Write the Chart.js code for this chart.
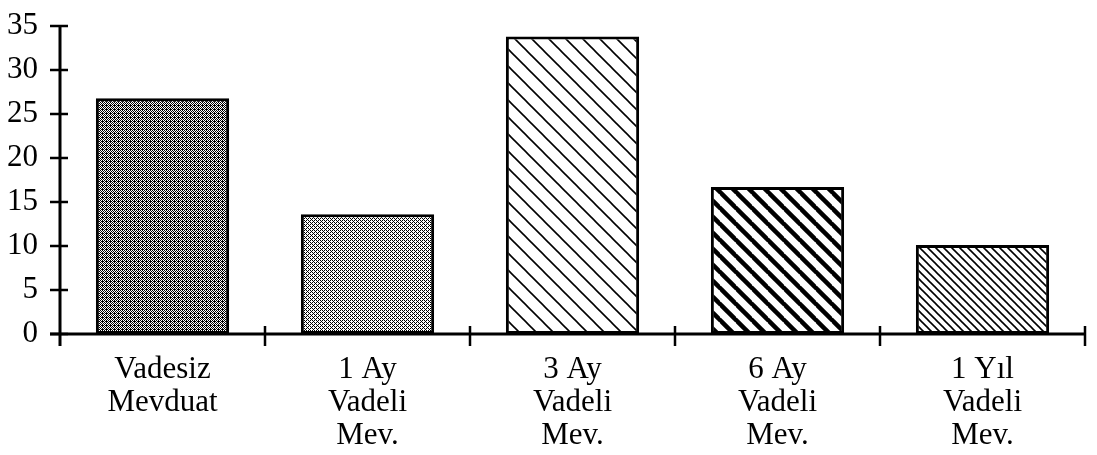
<!DOCTYPE html>
<html>
<head>
<meta charset="utf-8">
<script src="https://cdn.jsdelivr.net/npm/chart.js@4/dist/chart.umd.min.js"></script>
<style>
  body { margin: 0; background: #fff; }
  canvas { display: block; }
</style>
</head>
<body>
<canvas id="depositChart" width="1097" height="455"></canvas>
<script>
// data
const categories = [
    ["Vadesiz", "Mevduat"],
    ["1 Ay", "Vadeli", "Mev."],
    ["3 Ay", "Vadeli", "Mev."],
    ["6 Ay", "Vadeli", "Mev."],
    ["1 Yıl", "Vadeli", "Mev."]
];
const shares = [26.8, 13.6, 33.8, 16.7, 10.1];
const yTicks = [0, 5, 10, 15, 20, 25, 30, 35];

// ---- fill patterns ----
function stipple(levels) {
    // small ordered dither, levels = 4x4 grid of 0/1 (1 = black dot)
    let c = document.createElement("canvas");
    c.width = 4; c.height = 4;
    let g = c.getContext("2d");
    g.fillStyle = "#fff";
    g.fillRect(0, 0, 4, 4);
    g.fillStyle = "#000";
    for (let y = 0; y < 4; y++) {
        for (let x = 0; x < 4; x++) {
            if (levels[y][x]) g.fillRect(x, y, 1, 1);
        }
    }
    return g.createPattern(c, "repeat");
}

function hatch(p, lw) {
    let c = document.createElement("canvas");
    c.width = p; c.height = p;
    let g = c.getContext("2d");
    g.fillStyle = "#fff";
    g.fillRect(0, 0, p, p);
    g.strokeStyle = "#000";
    g.lineWidth = lw;
    for (let k = -p; k <= p; k += p) {
        g.beginPath();
        g.moveTo(-1, k - 1);
        g.lineTo(p + 1, p + k + 1);
        g.stroke();
    }
    return g.createPattern(c, "repeat");
}

const ctx = document.getElementById("depositChart").getContext("2d");

const fills = [
    stipple([[1,0,1,0],[0,1,1,1],[1,0,1,0],[0,1,0,1]]),
    stipple([[1,0,1,0],[0,1,0,0],[1,0,1,0],[0,0,0,1]]),
    hatch(17, 1.6),
    hatch(16, 4.5),
    hatch(8, 1.6)
];

// axes with ticks that cross the lines
const axesPlugin = {
    id: "axes",
    afterDatasetsDraw(chart) {
        const c = chart.ctx;
        const xs = chart.scales.x;
        const ys = chart.scales.y;
        const x0 = xs.left;
        const yb = ys.getPixelForValue(0);
        c.save();
        c.strokeStyle = "#000";
        c.lineWidth = 3;
        c.beginPath();
        c.moveTo(x0, ys.getPixelForValue(35));
        c.lineTo(x0, yb + 12);
        c.moveTo(x0 - 10, yb);
        c.lineTo(xs.right, yb);
        c.stroke();
        c.lineWidth = 2.5;
        c.beginPath();
        yTicks.forEach(v => {
            let y = ys.getPixelForValue(v);
            c.moveTo(x0 - 10, y);
            c.lineTo(x0 + 8, y);
        });
        const n = categories.length;
        for (let i = 1; i <= n; i++) {
            let x = xs.left + (xs.right - xs.left) * i / n;
            c.moveTo(x, yb - 8);
            c.lineTo(x, yb + 12);
        }
        c.stroke();
        c.restore();
    }
};

new Chart(ctx, {
    type: "bar",
    data: {
        labels: categories,
        datasets: [{
            data: shares,
            backgroundColor: fills,
            borderColor: "#000",
            borderWidth: 3,
            borderSkipped: false,
            categoryPercentage: 0.65,
            barPercentage: 1
        }]
    },
    options: {
        responsive: false,
        animation: false,
        layout: { padding: { top: 26, right: 12, left: 0, bottom: 0 } },
        plugins: { legend: { display: false }, tooltip: { enabled: false } },
        scales: {
            x: {
                grid: { display: false, drawTicks: false },
                border: { display: false },
                ticks: {
                    color: "#000",
                    padding: 19,
                    maxRotation: 0,
                    font: { family: "'Liberation Serif', serif", size: 31, lineHeight: "33px" }
                },
                afterFit(scale) {
                    scale.height = 121;
                    scale.paddingLeft = 0;
                    scale.paddingRight = 0;
                }
            },
            y: {
                min: 0,
                max: 35,
                grid: { display: false, drawTicks: false },
                border: { display: false },
                ticks: {
                    stepSize: 5,
                    color: "#000",
                    padding: 22,
                    font: { family: "'Liberation Serif', serif", size: 31 }
                },
                afterFit(scale) {
                    scale.width = 60;
                    scale.paddingTop = 0;
                    scale.paddingBottom = 0;
                }
            }
        }
    },
    plugins: [axesPlugin]
});
</script>
</body>
</html>
